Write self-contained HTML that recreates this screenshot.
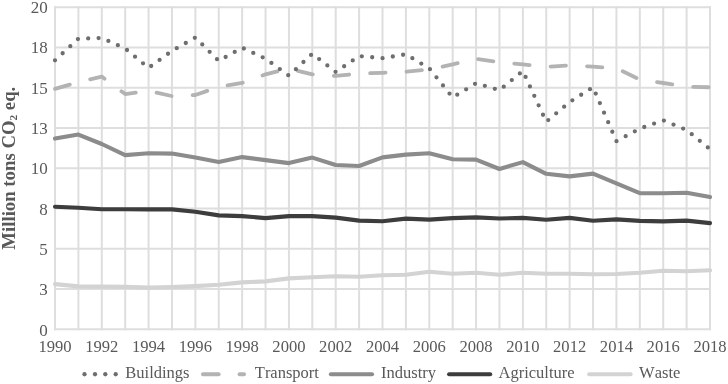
<!DOCTYPE html>
<html><head><meta charset="utf-8"><style>
html,body{margin:0;padding:0;background:#fff;width:728px;height:384px;overflow:hidden}
svg{display:block;will-change:transform}
text{font-family:"Liberation Serif",serif;font-size:16.3px;fill:#595959;font-kerning:none}
.lg{font-size:16.5px}
</style></head><body>
<svg width="728" height="384" viewBox="0 0 728 384">
<rect width="728" height="384" fill="#fff"/>
<g stroke="#dedede" stroke-width="2" fill="none"><line x1="54.00" y1="7.13" x2="711.00" y2="7.13"/><line x1="54.00" y1="47.40" x2="711.00" y2="47.40"/><line x1="54.00" y1="87.67" x2="711.00" y2="87.67"/><line x1="54.00" y1="127.94" x2="711.00" y2="127.94"/><line x1="54.00" y1="168.21" x2="711.00" y2="168.21"/><line x1="54.00" y1="208.48" x2="711.00" y2="208.48"/><line x1="54.00" y1="248.75" x2="711.00" y2="248.75"/><line x1="54.00" y1="289.02" x2="711.00" y2="289.02"/><line x1="54.00" y1="329.29" x2="711.00" y2="329.29"/><line x1="55.00" y1="6.13" x2="55.00" y2="330.3"/><line x1="78.39" y1="6.13" x2="78.39" y2="330.3"/><line x1="101.79" y1="6.13" x2="101.79" y2="330.3"/><line x1="125.18" y1="6.13" x2="125.18" y2="330.3"/><line x1="148.57" y1="6.13" x2="148.57" y2="330.3"/><line x1="171.96" y1="6.13" x2="171.96" y2="330.3"/><line x1="195.36" y1="6.13" x2="195.36" y2="330.3"/><line x1="218.75" y1="6.13" x2="218.75" y2="330.3"/><line x1="242.14" y1="6.13" x2="242.14" y2="330.3"/><line x1="265.54" y1="6.13" x2="265.54" y2="330.3"/><line x1="288.93" y1="6.13" x2="288.93" y2="330.3"/><line x1="312.32" y1="6.13" x2="312.32" y2="330.3"/><line x1="335.71" y1="6.13" x2="335.71" y2="330.3"/><line x1="359.11" y1="6.13" x2="359.11" y2="330.3"/><line x1="382.50" y1="6.13" x2="382.50" y2="330.3"/><line x1="405.89" y1="6.13" x2="405.89" y2="330.3"/><line x1="429.29" y1="6.13" x2="429.29" y2="330.3"/><line x1="452.68" y1="6.13" x2="452.68" y2="330.3"/><line x1="476.07" y1="6.13" x2="476.07" y2="330.3"/><line x1="499.46" y1="6.13" x2="499.46" y2="330.3"/><line x1="522.86" y1="6.13" x2="522.86" y2="330.3"/><line x1="546.25" y1="6.13" x2="546.25" y2="330.3"/><line x1="569.64" y1="6.13" x2="569.64" y2="330.3"/><line x1="593.04" y1="6.13" x2="593.04" y2="330.3"/><line x1="616.43" y1="6.13" x2="616.43" y2="330.3"/><line x1="639.82" y1="6.13" x2="639.82" y2="330.3"/><line x1="663.21" y1="6.13" x2="663.21" y2="330.3"/><line x1="686.61" y1="6.13" x2="686.61" y2="330.3"/><line x1="710.00" y1="6.13" x2="710.00" y2="330.3"/></g>
<g fill="none" stroke-linejoin="round">
<polyline points="55.00,284.10 78.39,286.40 101.79,286.60 125.18,286.90 148.57,287.60 171.96,287.10 195.36,286.10 218.75,284.80 242.14,282.40 265.54,281.40 288.93,278.40 312.32,277.20 335.71,276.20 359.11,276.70 382.50,275.20 405.89,274.70 429.29,271.80 452.68,273.70 476.07,272.80 499.46,274.70 522.86,272.80 546.25,273.80 569.64,273.70 593.04,274.20 616.43,274.00 639.82,272.80 663.21,270.80 686.61,271.30 710.00,270.30" stroke="#d3d3d3" stroke-width="4.1" stroke-linecap="round"/>
<polyline points="55.00,206.70 78.39,207.70 101.79,209.20 125.18,209.20 148.57,209.40 171.96,209.40 195.36,211.80 218.75,215.40 242.14,216.10 265.54,218.10 288.93,216.10 312.32,216.10 335.71,217.60 359.11,220.60 382.50,221.20 405.89,218.60 429.29,219.60 452.68,218.10 476.07,217.40 499.46,218.50 522.86,217.90 546.25,219.70 569.64,217.90 593.04,220.80 616.43,219.40 639.82,220.90 663.21,221.40 686.61,220.60 710.00,223.10" stroke="#3d3d3d" stroke-width="4.1" stroke-linecap="round"/>
<polyline points="55.00,138.60 78.39,134.60 101.79,144.00 125.18,155.10 148.57,153.20 171.96,153.60 195.36,157.60 218.75,162.10 242.14,157.10 265.54,160.10 288.93,163.10 312.32,157.60 335.71,165.00 359.11,166.00 382.50,157.40 405.89,154.60 429.29,153.20 452.68,159.30 476.07,159.60 499.46,169.00 522.86,162.10 546.25,173.80 569.64,176.40 593.04,173.60 616.43,183.30 639.82,193.20 663.21,193.20 686.61,192.70 710.00,197.10" stroke="#8c8c8c" stroke-width="4.1" stroke-linecap="round"/>
<polyline points="55.00,88.90 78.39,82.10 101.79,76.60 125.18,94.10 148.57,90.90 171.96,96.10 195.36,95.00 218.75,86.90 242.14,82.90 265.54,74.30 288.93,68.70 312.32,74.40 335.71,75.90 359.11,73.50 382.50,72.80 405.89,71.80 429.29,69.50 452.68,64.40 476.07,58.80 499.46,62.20 522.86,64.30 546.25,67.00 569.64,65.40 593.04,66.60 616.43,68.30 639.82,79.60 663.21,83.00 686.61,86.70 710.00,87.30" stroke="#b3b3b3" stroke-width="3.8" stroke-linecap="round" stroke-dasharray="15.4 21.06"/>
<polyline points="55.00,60.30 78.39,38.70 101.79,38.00 125.18,48.50 148.57,67.90 171.96,50.90 195.36,37.50 218.75,60.90 242.14,47.70 265.54,58.70 288.93,75.70 312.32,53.70 335.71,72.00 359.11,56.10 382.50,58.20 405.89,54.30 429.29,68.40 452.68,97.50 476.07,83.20 499.46,90.20 522.86,71.00 546.25,121.80 569.64,102.00 593.04,87.30 616.43,141.20 639.82,128.60 663.21,120.30 686.61,130.00 710.00,149.20" stroke="#6e6e6e" stroke-width="4.3" stroke-linecap="round" stroke-dasharray="0 10.408"/>
</g>
<text x="47.8" y="13.13" text-anchor="end" style="font-size:17px">20</text><text x="47.8" y="53.43" text-anchor="end" style="font-size:17px">18</text><text x="47.8" y="93.73" text-anchor="end" style="font-size:17px">15</text><text x="47.8" y="134.03" text-anchor="end" style="font-size:17px">13</text><text x="47.8" y="174.33" text-anchor="end" style="font-size:17px">10</text><text x="47.8" y="214.63" text-anchor="end" style="font-size:17px">8</text><text x="47.8" y="254.93" text-anchor="end" style="font-size:17px">5</text><text x="47.8" y="295.23" text-anchor="end" style="font-size:17px">3</text><text x="47.8" y="335.53" text-anchor="end" style="font-size:17px">0</text>
<text x="55.00" y="351.9" text-anchor="middle" style="font-size:16.6px">1990</text><text x="101.79" y="351.9" text-anchor="middle" style="font-size:16.6px">1992</text><text x="148.57" y="351.9" text-anchor="middle" style="font-size:16.6px">1994</text><text x="195.36" y="351.9" text-anchor="middle" style="font-size:16.6px">1996</text><text x="242.14" y="351.9" text-anchor="middle" style="font-size:16.6px">1998</text><text x="288.93" y="351.9" text-anchor="middle" style="font-size:16.6px">2000</text><text x="335.71" y="351.9" text-anchor="middle" style="font-size:16.6px">2002</text><text x="382.50" y="351.9" text-anchor="middle" style="font-size:16.6px">2004</text><text x="429.29" y="351.9" text-anchor="middle" style="font-size:16.6px">2006</text><text x="476.07" y="351.9" text-anchor="middle" style="font-size:16.6px">2008</text><text x="522.86" y="351.9" text-anchor="middle" style="font-size:16.6px">2010</text><text x="569.64" y="351.9" text-anchor="middle" style="font-size:16.6px">2012</text><text x="616.43" y="351.9" text-anchor="middle" style="font-size:16.6px">2014</text><text x="663.21" y="351.9" text-anchor="middle" style="font-size:16.6px">2016</text><text x="710.00" y="351.9" text-anchor="middle" style="font-size:16.6px">2018</text>
<text transform="translate(14.8,168.2) rotate(-90) scale(1.043,1)" text-anchor="middle" style="font-weight:bold;font-size:18px">Million tons CO<tspan style="font-size:10.8px" dy="2.6">2</tspan><tspan dy="-2.6"> eq.</tspan></text>

<g fill="#6e6e6e"><circle cx="84.5" cy="374.25" r="2.15"/><circle cx="95.0" cy="374.25" r="2.15"/><circle cx="105.3" cy="374.25" r="2.15"/><circle cx="115.7" cy="374.25" r="2.15"/></g>
<text x="125.3" y="377.8" class="lg">Buildings</text>
<g stroke="#b3b3b3" stroke-width="3.8" stroke-linecap="round"><line x1="202.9" y1="374.25" x2="218.7" y2="374.25"/><line x1="239.5" y1="374.25" x2="244.1" y2="374.25"/></g>
<text x="254.8" y="377.8" class="lg">Transport</text>
<line x1="330.9" y1="374.25" x2="372.0" y2="374.25" stroke="#8c8c8c" stroke-width="4.1" stroke-linecap="round"/>
<text x="381.1" y="377.8" class="lg">Industry</text>
<line x1="449.1" y1="374.25" x2="490.2" y2="374.25" stroke="#3d3d3d" stroke-width="4.1" stroke-linecap="round"/>
<text x="498.5" y="377.8" class="lg">Agriculture</text>
<line x1="589.2" y1="374.25" x2="630.6" y2="374.25" stroke="#d3d3d3" stroke-width="4.1" stroke-linecap="round"/>
<text x="639.1" y="377.8" class="lg">Waste</text>

</svg>
</body></html>
